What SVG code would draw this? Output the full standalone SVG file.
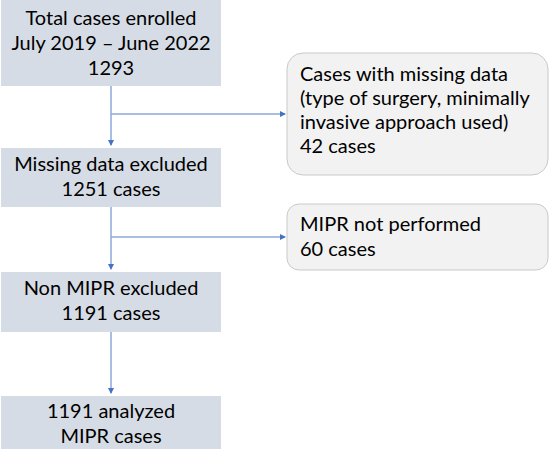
<svg xmlns="http://www.w3.org/2000/svg" width="550" height="457" viewBox="0 0 550 457">
<defs>
<marker id="ah" markerWidth="6" markerHeight="6" refX="5" refY="3" orient="auto" markerUnits="userSpaceOnUse">
<path d="M0,0 L6,3 L0,6 Z" fill="#4472c4"/>
</marker>
<style>
.main{fill:#d6dce5;stroke:none}
.side{fill:#f2f2f2;stroke:#c9c9c9;stroke-width:1}
.t{font-family:Lato,"Open Sans",sans-serif;font-size:20px;fill:#000}
.c{text-anchor:middle}
.ln{stroke:#8ea9db;stroke-width:1.5;fill:none}
</style>
</defs>
<g id="connectors">
<path class="ln" d="M111,86 V145" marker-end="url(#ah)"/>
<path class="ln" d="M111,114 H285" marker-end="url(#ah)"/>
<path class="ln" d="M111,207 V269" marker-end="url(#ah)"/>
<path class="ln" d="M111,237 H285" marker-end="url(#ah)"/>
<path class="ln" d="M111,332 V393" marker-end="url(#ah)"/>
</g>
<g id="n1">
<rect class="main" x="1" y="0" width="220" height="86"/>
<text class="t c" x="111" y="25">Total cases enrolled</text>
<text class="t c" x="111" y="50">July 2019 – June 2022</text>
<text class="t c" x="111" y="75">1293</text>
</g>
<g id="n2">
<rect class="main" x="1" y="148" width="220" height="59"/>
<text class="t c" x="111" y="171">Missing data excluded</text>
<text class="t c" x="111" y="196">1251 cases</text>
</g>
<g id="n3">
<rect class="main" x="1" y="272" width="220" height="60"/>
<text class="t c" x="111" y="295">Non MIPR excluded</text>
<text class="t c" x="111" y="320">1191 cases</text>
</g>
<g id="n4">
<rect class="main" x="1" y="396" width="220" height="53"/>
<text class="t c" x="111" y="418">1191 analyzed</text>
<text class="t c" x="111" y="443">MIPR cases</text>
</g>
<g id="s1">
<rect class="side" x="287" y="53" width="261" height="122" rx="16"/>
<text class="t" x="300" y="81"> Cases with missing data</text>
<text class="t" x="300" y="105">(type of surgery, minimally</text>
<text class="t" x="300" y="129">invasive approach used)</text>
<text class="t" x="300" y="153">42 cases</text>
</g>
<g id="s2">
<rect class="side" x="287" y="204" width="261" height="66" rx="12"/>
<text class="t" x="300" y="231">MIPR not performed</text>
<text class="t" x="300" y="256">60 cases</text>
</g>
</svg>
